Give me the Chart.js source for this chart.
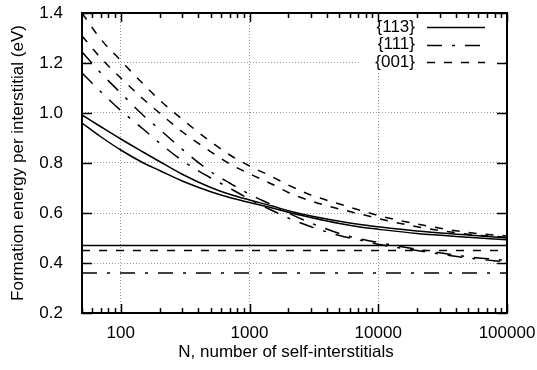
<!DOCTYPE html>
<html>
<head>
<meta charset="utf-8">
<script src="https://cdn.jsdelivr.net/npm/chart.js@4.4.0/dist/chart.umd.min.js"></script>
<style>
  html, body { margin: 0; padding: 0; background: #fff; }
</style>
</head>
<body>
<canvas id="myChart" width="537" height="370"></canvas>
<script>
/* globals Chart:false */

// cluster size N (number of self-interstitials)
const N = [50, 70, 100, 150, 200, 300, 500, 700, 1000, 1500, 2000, 3000, 5000, 7000, 10000, 20000, 50000, 100000];

// formation energy per interstitial (eV), two curves per defect family
const e113a = [0.992, 0.945, 0.896, 0.843, 0.806, 0.755, 0.702, 0.675, 0.652, 0.628, 0.609, 0.588, 0.567, 0.555, 0.545, 0.528, 0.512, 0.500];
const e113b = [0.960, 0.905, 0.852, 0.800, 0.770, 0.728, 0.685, 0.662, 0.642, 0.620, 0.603, 0.582, 0.558, 0.545, 0.535, 0.518, 0.503, 0.493];
const e111a = [1.244, 1.160, 1.080, 0.990, 0.935, 0.855, 0.765, 0.720, 0.675, 0.632, 0.600, 0.560, 0.518, 0.498, 0.482, 0.455, 0.425, 0.410];
const e111b = [1.160, 1.085, 1.010, 0.935, 0.880, 0.810, 0.740, 0.700, 0.655, 0.610, 0.580, 0.545, 0.510, 0.493, 0.475, 0.450, 0.420, 0.404];
const e001a = [1.400, 1.295, 1.210, 1.115, 1.052, 0.975, 0.885, 0.833, 0.788, 0.745, 0.712, 0.672, 0.636, 0.613, 0.590, 0.556, 0.522, 0.508];
const e001b = [1.308, 1.220, 1.140, 1.055, 1.000, 0.925, 0.845, 0.797, 0.757, 0.715, 0.682, 0.648, 0.616, 0.598, 0.578, 0.545, 0.515, 0.503];

// large-N limits
const lim113 = 0.47;
const lim001 = 0.45;
const lim111 = 0.36;

const xTicks = [100, 1000, 10000, 100000];
const yTicks = [0.2, 0.4, 0.6, 0.8, 1.0, 1.2, 1.4];

const FONT = '17px "Liberation Sans", Arial, sans-serif';
const DASH_001 = [8, 9];
const DASH_111 = [15, 10, 3, 10];

const pts = vals => N.map((n, i) => ({ x: n, y: vals[i] }));
const flat = v => [{ x: N[0], y: v }, { x: N[N.length - 1], y: v }];

function line(label, data, dash) {
    return {
        label: label,
        data: data,
        borderColor: '#000',
        borderWidth: 1.5,
        borderDash: dash,
        pointRadius: 0,
        cubicInterpolationMode: 'monotone',
        fill: false,
    };
}

// gnuplot-style frame: inward ticks on all sides, labels, titles
const frame = {
    id: 'frame',
    afterDraw(chart) {
        const { ctx, chartArea: a, scales: { x, y } } = chart;
        ctx.save();
        ctx.strokeStyle = '#000';
        ctx.fillStyle = '#000';

        ctx.lineWidth = 1.5;
        ctx.beginPath();
        for (let d = 10; d <= 100000; d *= 10) {
            for (let m = 1; m <= 9; m++) {
                const v = d * m;
                if (v < 50 || v > 100000) continue;
                const px = Math.round(x.getPixelForValue(v)) + 0.5;
                const len = m === 1 ? 9 : 5;
                ctx.moveTo(px, a.bottom); ctx.lineTo(px, a.bottom - len);
                ctx.moveTo(px, a.top); ctx.lineTo(px, a.top + len);
            }
        }
        yTicks.forEach(v => {
            const py = Math.round(y.getPixelForValue(v)) + 0.5;
            ctx.moveTo(a.left, py); ctx.lineTo(a.left + 10, py);
            ctx.moveTo(a.right, py); ctx.lineTo(a.right - 10, py);
        });
        ctx.stroke();

        ctx.lineWidth = 2;
        ctx.strokeRect(a.left, a.top, a.right - a.left, a.bottom - a.top);

        ctx.font = FONT;
        ctx.textAlign = 'center';
        ctx.textBaseline = 'middle';
        xTicks.forEach(v => ctx.fillText(String(v), x.getPixelForValue(v), a.bottom + 20));
        ctx.textAlign = 'right';
        yTicks.forEach(v => ctx.fillText(v.toFixed(1), a.left - 19, y.getPixelForValue(v)));

        ctx.textAlign = 'center';
        ctx.fillText('N, number of self-interstitials', 286, a.bottom + 39);
        ctx.translate(18, (a.top + a.bottom) / 2);
        ctx.rotate(-Math.PI / 2);
        ctx.fillText('Formation energy per interstitial (eV)', 0, 0);
        ctx.restore();
    },
    afterDatasetsDraw(chart) {
        const { ctx, chartArea: a } = chart;
        const items = chart.data.datasets.filter(ds => ds.label);
        ctx.save();
        ctx.fillStyle = '#fff';
        ctx.fillRect(360, a.top + 2, a.right - 362, 56);
        ctx.font = FONT;
        ctx.textAlign = 'right';
        ctx.textBaseline = 'middle';
        items.forEach((ds, i) => {
            const yy = 27 + i * 17.5;
            ctx.fillStyle = '#000';
            ctx.fillText(ds.label, 415, yy);
            ctx.strokeStyle = '#000';
            ctx.lineWidth = ds.borderWidth;
            ctx.setLineDash(ds.borderDash);
            ctx.beginPath();
            ctx.moveTo(427, Math.round(yy) + 0.5);
            ctx.lineTo(485, Math.round(yy) + 0.5);
            ctx.stroke();
        });
        ctx.restore();
    },
};

new Chart(document.getElementById("myChart").getContext('2d'), {
    type: 'line',
    data: {
        datasets: [
            line('{113}', pts(e113a), []),
            line('{111}', pts(e111a), DASH_111),
            line('{001}', pts(e001a), DASH_001),
            line('', pts(e113b), []),
            line('', pts(e111b), DASH_111),
            line('', pts(e001b), DASH_001),
            line('', flat(lim113), []),
            line('', flat(lim001), DASH_001),
            line('', flat(lim111), DASH_111),
        ],
    },
    options: {
        responsive: false,
        animation: false,
        layout: { padding: { left: 82, right: 30, top: 13, bottom: 57 } },
        plugins: { legend: { display: false }, tooltip: { enabled: false } },
        scales: {
            x: {
                type: 'logarithmic',
                min: 50,
                max: 100000,
                afterBuildTicks: scale => { scale.ticks = xTicks.map(v => ({ value: v })); },
                ticks: { display: false },
                grid: {
                    drawTicks: false,
                    color: c => (c.tick && c.tick.value === 100000 ? 'rgba(0,0,0,0)' : '#999'),
                },
                border: { display: false, dash: [1, 2] },
            },
            y: {
                min: 0.2,
                max: 1.4,
                afterBuildTicks: scale => { scale.ticks = yTicks.map(v => ({ value: v })); },
                ticks: { display: false },
                grid: {
                    drawTicks: false,
                    color: c => (c.tick && (c.tick.value < 0.3 || c.tick.value > 1.3) ? 'rgba(0,0,0,0)' : '#999'),
                },
                border: { display: false, dash: [1, 2] },
            },
        },
    },
    plugins: [frame],
});
</script>
</body>
</html>
